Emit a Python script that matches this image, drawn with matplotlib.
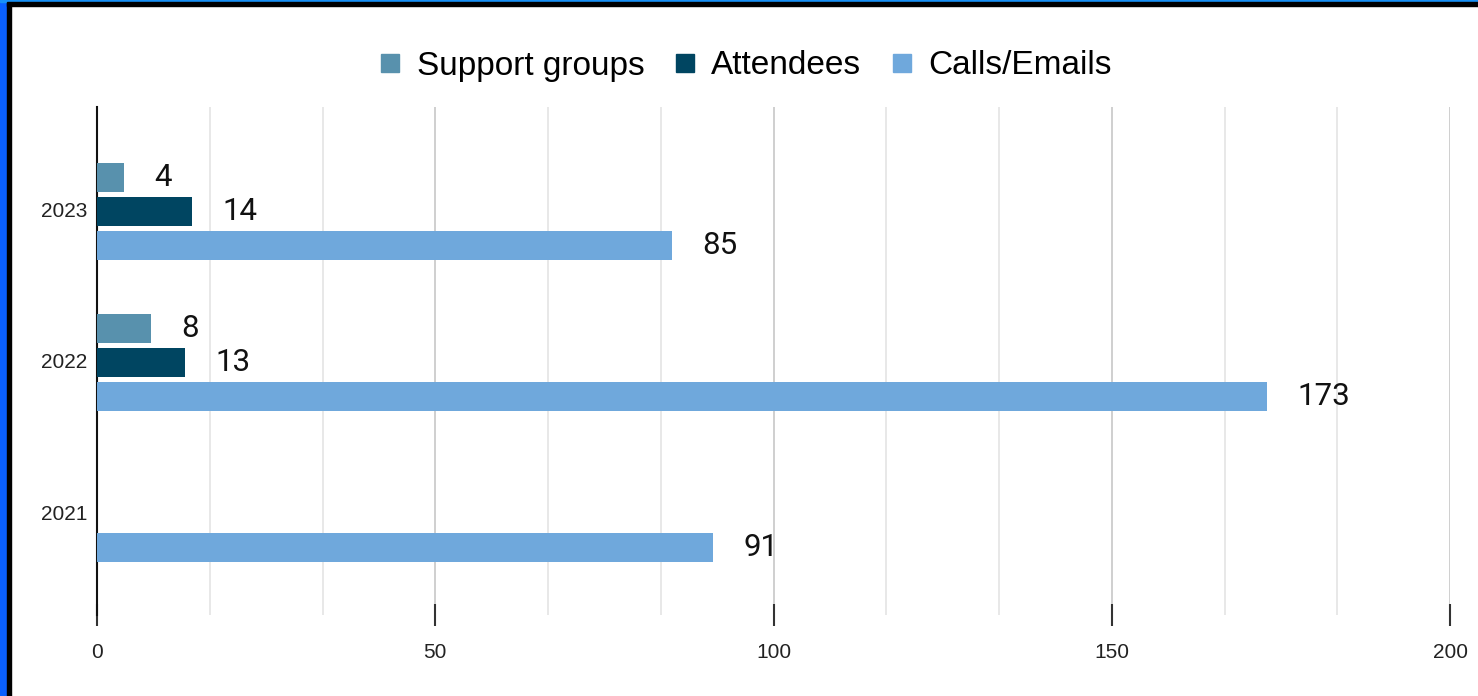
import numpy as np
import matplotlib
matplotlib.use('Agg')
import matplotlib.pyplot as plt
from matplotlib.lines import Line2D
from matplotlib.patches import Rectangle
from matplotlib.ticker import MultipleLocator

# data
years = ['2021', '2022', '2023']
support = [0, 8, 4]
attendees = [0, 13, 14]
calls = [91, 173, 85]
series_names = ['Support groups', 'Attendees', 'Calls/Emails']
colors = ['#5891ad', '#004561', '#6fa8dc']

W, H = 1478, 696
fig = plt.figure(figsize=(W / 100, H / 100), dpi=100)
ax = fig.add_axes([97 / W, 1 - 615 / H, (1450 - 97) / W, (615 - 107) / H])

ypos = np.arange(len(years))
offsets = [0.215, -0.01, -0.235]
bh = 0.19

for vals, off, col, name in zip([support, attendees, calls], offsets, colors, series_names):
    bars = ax.barh(ypos + off, vals, height=bh, color=col, label=name, zorder=3)
    labels = [str(v) if v else '' for v in vals]
    ax.bar_label(bars, labels=labels, padding=22, fontsize=22.5,
                 family='Roboto', color='#111111')

ax.set_xlim(0, 200)
ax.set_ylim(-0.68, 2.68)
ax.set_yticks(ypos)
ax.set_yticklabels(years)
ax.xaxis.set_major_locator(MultipleLocator(50))
ax.xaxis.set_minor_locator(MultipleLocator(50 / 3))
ax.grid(axis='x', which='major', color='#cccccc', lw=1.3)
ax.grid(axis='x', which='minor', color='#e6e6e6', lw=1.3)
ax.set_axisbelow(True)

for s in ['top', 'right', 'bottom']:
    ax.spines[s].set_visible(False)
ax.spines['left'].set_color('#111111')
ax.spines['left'].set_linewidth(1.5)

ax.tick_params(axis='x', which='major', direction='inout', length=16, width=1.5,
               color='#333333', pad=12, labelsize=15, labelcolor='#222222')
ax.tick_params(axis='x', which='minor', length=0)
ax.tick_params(axis='y', length=0, pad=7, labelsize=15, labelcolor='#222222')
for t in ax.get_xticklabels() + ax.get_yticklabels():
    t.set_family('Liberation Sans')

handles = [Line2D([], [], marker='s', ls='none', markersize=13, color=c) for c in colors]
fig.legend(handles, series_names, loc='center', bbox_to_anchor=(746 / W, 1 - 66 / H),
           ncol=3, frameon=False, borderaxespad=0, handlelength=0.6, handletextpad=0.5,
           columnspacing=0.9, prop={'family': 'Liberation Sans', 'size': 24})

# blue/black frame on the left and top
fig.patches.append(Rectangle((0, 0), 7 / W, 1, transform=fig.transFigure, color='#0a60ff', zorder=0))
fig.patches.append(Rectangle((7 / W, 0), 4 / W, 1, transform=fig.transFigure, color='#000000', zorder=0))
fig.patches.append(Rectangle((0, 1 - 2 / H), 1, 2 / H, transform=fig.transFigure, color='#1790f5', zorder=0))
fig.patches.append(Rectangle((7 / W, 1 - 6 / H), 1, 4 / H, transform=fig.transFigure, color='#000000', zorder=0))

fig.savefig('out.png', dpi=100)
